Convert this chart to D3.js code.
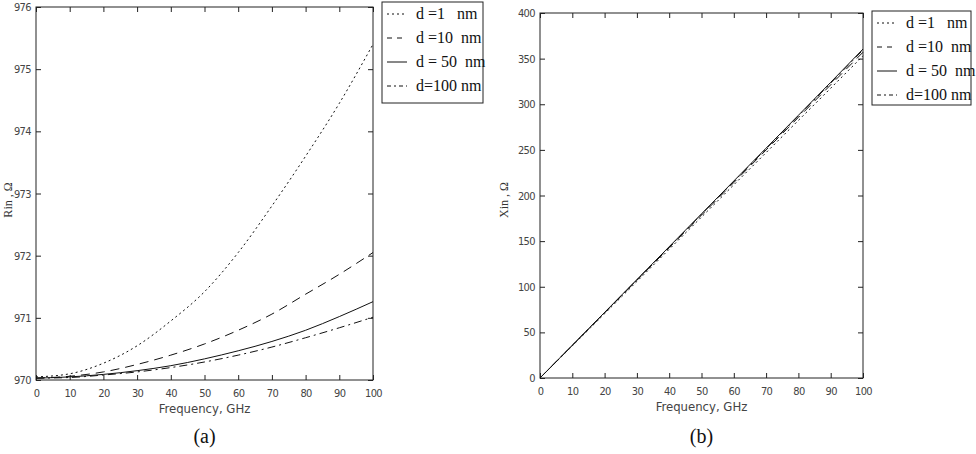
<!DOCTYPE html>
<html>
<head>
<meta charset="utf-8">
<script src="https://cdn.jsdelivr.net/npm/d3@7"></script>
<style>
  body { margin: 0; background: #fff; }
  .tick text { font-family: "Liberation Sans Narrow", "DejaVu Sans Condensed", sans-serif; font-size: 11px; letter-spacing: -0.6px; fill: #444; }
  .lbl { font-family: "Liberation Sans Narrow", "DejaVu Sans Condensed", sans-serif; font-size: 13px; fill: #444; }
  .serif { font-family: "Liberation Serif", "DejaVu Serif", serif; fill: #111; }
</style>
</head>
<body>
<div id="chart"></div>
<script>
// frequency points (GHz)
const freq = [0, 10, 20, 30, 40, 50, 60, 70, 80, 90, 100];

// series names
const names = ["d =1   nm", "d =10  nm", "d = 50  nm", "d=100 nm"];

// panel (a) Rin, ohm
const rin1 = [970.05, 970.1, 970.27, 970.55, 970.95, 971.42, 972.05, 972.8, 973.6, 974.45, 975.4];
const rin10 = [970.03, 970.06, 970.13, 970.25, 970.4, 970.58, 970.8, 971.06, 971.38, 971.7, 972.05];
const rin50 = [970.03, 970.05, 970.09, 970.15, 970.23, 970.34, 970.47, 970.62, 970.8, 971.02, 971.26];
const rin100 = [970.03, 970.04, 970.08, 970.13, 970.2, 970.29, 970.4, 970.53, 970.68, 970.84, 971.01];

// panel (b) Xin, ohm
const xin1 = [0, 35.2, 70.5, 105.8, 141.1, 176.4, 211.7, 247.0, 282.3, 317.6, 353];
const xin10 = [0, 35.7, 71.4, 107.1, 142.8, 178.5, 214.2, 249.9, 285.6, 321.3, 357];
const xin50 = [0, 35.9, 71.9, 107.9, 143.9, 179.9, 215.9, 251.9, 287.9, 324.0, 360.5];
const xin100 = [0, 35.8, 71.7, 107.6, 143.5, 179.4, 215.3, 251.2, 287.2, 323.2, 359.5];

const dashes = ["2,3", "9,6", null, "8,4,2,4"];

const W = 976, H = 454;
const svg = d3.select("#chart").append("svg").attr("width", W).attr("height", H);

function panel(cfg) {
  const x = d3.scaleLinear().domain([0, 100]).range([cfg.x0, cfg.x1]);
  const y = d3.scaleLinear().domain(cfg.yDomain).range([cfg.y1, cfg.y0]);
  const g = svg.append("g");

  // frame
  g.append("rect").attr("x", cfg.x0).attr("y", cfg.y0)
    .attr("width", cfg.x1 - cfg.x0).attr("height", cfg.y1 - cfg.y0)
    .attr("fill", "none").attr("stroke", "#222").attr("stroke-width", 1);

  const xTicks = d3.range(0, 101, 10);
  const yTicks = d3.range(cfg.yDomain[0], cfg.yDomain[1] + 0.001, cfg.yStep);

  const ax = g.append("g").attr("transform", `translate(0,${cfg.y1})`)
    .call(d3.axisBottom(x).tickValues(xTicks).tickSizeInner(-5).tickSizeOuter(0).tickPadding(9).tickFormat(d3.format("d")));
  ax.select(".domain").remove();
  ax.selectAll("line").attr("stroke", "#222");

  const axT = g.append("g").attr("transform", `translate(0,${cfg.y0})`)
    .call(d3.axisTop(x).tickValues(xTicks).tickSizeInner(-5).tickSizeOuter(0).tickFormat(""));
  axT.select(".domain").remove();
  axT.selectAll("line").attr("stroke", "#222");

  const ay = g.append("g").attr("transform", `translate(${cfg.x0},0)`)
    .call(d3.axisLeft(y).tickValues(yTicks).tickSizeInner(-5).tickSizeOuter(0).tickPadding(5).tickFormat(d3.format("d")));
  ay.select(".domain").remove();
  ay.selectAll("line").attr("stroke", "#222");

  const ayR = g.append("g").attr("transform", `translate(${cfg.x1},0)`)
    .call(d3.axisRight(y).tickValues(yTicks).tickSizeInner(-5).tickSizeOuter(0).tickFormat(""));
  ayR.select(".domain").remove();
  ayR.selectAll("line").attr("stroke", "#222");

  // curves
  const line = d3.line().x((d, i) => x(freq[i])).y(d => y(d)).curve(d3.curveMonotoneX);
  cfg.series.forEach((s, k) => {
    g.append("path").datum(s).attr("d", line)
      .attr("fill", "none").attr("stroke", "#111").attr("stroke-width", 1)
      .attr("stroke-dasharray", dashes[k]);
  });

  // axis labels
  g.append("text").attr("class", "lbl").attr("x", (cfg.x0 + cfg.x1) / 2).attr("y", cfg.y1 + 33)
    .attr("text-anchor", "middle").text("Frequency, GHz");
  g.append("text").attr("class", "serif").attr("font-size", 12).style("fill", "#333")
    .attr("transform", `translate(${cfg.yLabX},200) rotate(-90)`)
    .attr("text-anchor", "middle").text(cfg.yLabel);
  g.append("text").attr("class", "serif").attr("font-size", 20)
    .attr("x", (cfg.x0 + cfg.x1) / 2).attr("y", 443).attr("text-anchor", "middle").text(cfg.tag);

  // legend
  const lg = g.append("g").attr("transform", `translate(${cfg.lx},${cfg.ly})`);
  lg.append("rect").attr("width", cfg.lw).attr("height", cfg.lh)
    .attr("fill", "#fff").attr("stroke", "#222");
  names.forEach((n, k) => {
    const yy = 17 + k * 24;
    lg.append("line").attr("x1", 5).attr("x2", 25).attr("y1", yy - 5).attr("y2", yy - 5)
      .attr("stroke", "#111").attr("stroke-dasharray", k === 1 ? "5,5" : dashes[k] === "8,4,2,4" ? "4,3,2,3" : dashes[k]);
    lg.append("text").attr("class", "serif").attr("font-size", 16)
      .attr("x", 34).attr("y", yy).attr("xml:space", "preserve").style("white-space", "pre").text(n);
  });
}

panel({
  x0: 36, x1: 373, y0: 7, y1: 380,
  yDomain: [970, 976], yStep: 1,
  series: [rin1, rin10, rin50, rin100],
  yLabel: "Rin , Ω", yLabX: 12, tag: "(a)",
  lx: 382, ly: 2, lw: 101, lh: 101
});

panel({
  x0: 540, x1: 863, y0: 13, y1: 378,
  yDomain: [0, 400], yStep: 50,
  series: [xin1, xin10, xin50, xin100],
  yLabel: "Xin , Ω", yLabX: 508, tag: "(b)",
  lx: 872, ly: 11, lw: 99, lh: 94
});
</script>
</body>
</html>
